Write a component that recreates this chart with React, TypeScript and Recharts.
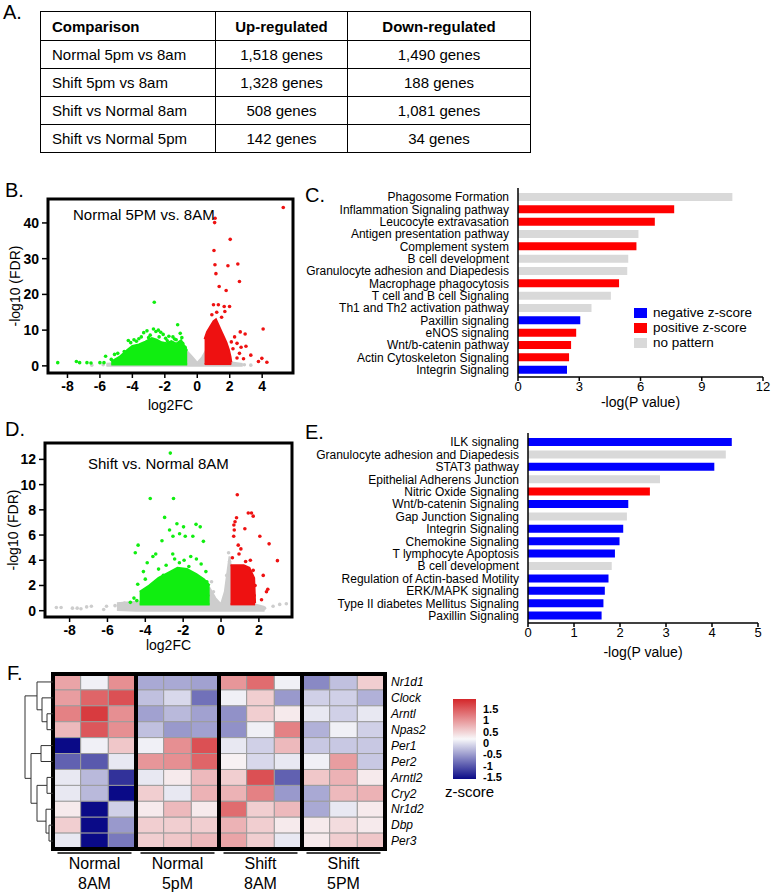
import React from "react"
import {
  BarChart,
  Bar,
  XAxis,
  YAxis,
  Cell,
  ComposedChart,
  Area,
  Scatter,
  ScatterChart,
  ReferenceArea,
} from "recharts"

// A. differentially expressed gene counts
const comparisons = ["Normal 5pm vs 8am", "Shift 5pm vs 8am", "Shift vs Normal 8am", "Shift vs Normal 5pm"]
const upRegulated = ["1,518 genes", "1,328 genes", "508 genes", "142 genes"]
const downRegulated = ["1,490 genes", "188 genes", "1,081 genes", "34 genes"]

// B. volcano Normal 5PM vs 8AM  ([x, lo, hi] for dense clouds, [x, y] for single dots)
const grayCloudB: [number, number, number][] = [
  [-5.6, 0, 0.6], [-4, 0, 1], [-2, 0, 1.2], [-0.62, 0, 4], [-0.3, 0, 2.4], [0, 0, 0.8],
  [0.3, 0, 2.4], [0.5, 0, 4], [2, 0, 1], [2.8, 0, 0.5],
]
const greenCloudB: [number, number, number][] = [
  [-5.3, 0.4, 1.2], [-4.8, 0.4, 2.5], [-4.3, 0.4, 4.5], [-4.0, 0.4, 5.6], [-3.6, 0.4, 6.0],
  [-3.2, 0.4, 6.8], [-2.8, 0.4, 7.8], [-2.5, 0.4, 7.3], [-2.2, 0.4, 6.6], [-1.9, 0.4, 6.3],
  [-1.6, 0.4, 6.9], [-1.3, 0.4, 6.2], [-1.0, 0.4, 7.2], [-0.8, 0.4, 5.6], [-0.62, 0.4, 4.2],
]
const redCloudB: [number, number, number][] = [
  [0.45, 0.5, 7.5], [0.6, 0.5, 9.5], [0.8, 0.5, 11], [1.0, 0.5, 12.5], [1.15, 0.5, 13],
  [1.3, 0.5, 11.5], [1.5, 0.5, 9.5], [1.65, 0.5, 8], [1.8, 0.5, 6.5], [1.95, 0.5, 4.5],
  [2.05, 0.5, 2.5], [2.1, 0.5, 1],
]
const greenDotsB: [number, number][] = [
  [-8.6, 0.9], [-7.45, 1.2], [-7.25, 0.9], [-6.8, 0.9], [-6.55, 0.8], [-6.0, 0.9], [-5.75, 0.9],
  [-5.65, 2.7], [-5.3, 1.8], [-5.1, 3.2], [-4.9, 3.5], [-4.7, 2.4], [-4.5, 4.0], [-4.25, 7.1],
  [-4.1, 6.5], [-3.9, 7.3], [-3.6, 7.6], [-3.3, 9.3], [-3.1, 9.8], [-2.9, 8.6], [-2.7, 10.3],
  [-2.55, 9.6], [-2.4, 10.0], [-2.25, 9.4], [-2.1, 8.8], [-1.95, 7.7], [-1.75, 8.3], [-1.5, 8.1],
  [-1.21, 11.5], [-1.05, 9.1], [-0.9, 6.3], [-2.65, 17.8], [-3.45, 8.1], [-1.3, 7.3], [-0.75, 5.2],
  [-3.75, 6.9], [-3.0, 7.9], [-2.35, 8.1], [-1.85, 7.0], [-1.4, 7.5], [-0.95, 7.9],
]
const redDotsB: [number, number][] = [
  [5.3, 44.3], [1.1, 41.3], [1.07, 40.1], [2.03, 35.4], [1.03, 32.3], [1.09, 28.3], [1.89, 28.0],
  [2.5, 28.5], [1.15, 25.8], [2.6, 23.6], [1.35, 22.2], [1.78, 21.1], [1.0, 17.1], [1.3, 17.1],
  [1.66, 16.6], [1.99, 16.6], [4.06, 10.3], [2.65, 9.5], [2.95, 8.9], [2.45, 6.3], [2.7, 5.2],
  [3.0, 5.5], [2.6, 3.5], [2.2, 4.8], [2.45, 2.2], [3.3, 3.0], [3.77, 1.2], [3.98, 2.1],
  [4.29, 1.0], [2.1, 6.7], [1.7, 15.2], [1.2, 15.0], [0.9, 14.3], [1.5, 13.6], [2.3, 8.1], [2.85, 2.0],
]
const grayDotsB: [number, number][] = [[-6.5, 0.2], [-5.8, 0.3], [2.9, 0.3], [3.3, 0.2]]

// D. volcano Shift vs Normal 8AM
const grayCloudD: [number, number, number][] = [
  [-5.5, 0.05, 0.6], [-4.5, 0, 0.7], [-2, 0, 0.6], [-0.6, 0, 1.8], [-0.3, 0, 1.0], [0, 0, 0.5],
  [0.2, 0, 1.5], [0.45, 0, 4.3], [0.6, 0, 2.5], [1.8, 0, 0.5], [2.3, 0, 0.3],
]
const greenCloudD: [number, number, number][] = [
  [-4.3, 0.5, 1.5], [-3.8, 0.5, 2.0], [-3.3, 0.5, 2.6], [-2.8, 0.5, 3.0], [-2.3, 0.5, 3.4],
  [-1.8, 0.5, 3.3], [-1.3, 0.5, 2.9], [-0.9, 0.5, 2.5], [-0.6, 0.5, 2.0],
]
const redCloudD: [number, number, number][] = [
  [0.5, 0.5, 3.6], [1.2, 0.5, 3.6], [1.5, 0.5, 3.4], [1.75, 0.5, 2.6], [1.8, 0.5, 0.6],
]
const greenDotsD: [number, number][] = [
  [-2.68, 12.5], [-3.74, 8.9], [-2.51, 8.9], [-2.98, 7.4], [-2.33, 6.9], [-1.98, 6.65], [-1.32, 6.85],
  [-1.1, 6.65], [-2.72, 6.4], [-2.19, 6.1], [-2.54, 5.9], [-1.89, 5.9], [-1.49, 5.9], [-3.12, 5.55],
  [-0.93, 5.5], [-4.38, 5.2], [-4.53, 4.6], [-3.6, 4.3], [-3.45, 4.5], [-2.55, 4.5], [-2.45, 4.1],
  [-1.95, 4.0], [-1.6, 4.3], [-1.3, 4.1], [-1.05, 3.7], [-2.9, 3.6], [-3.3, 3.3], [-4.1, 3.1],
  [-4.4, 2.1], [-4.0, 2.5], [-4.79, 0.66], [-4.6, 1.0], [-4.45, 0.8], [-3.9, 3.8], [-2.2, 3.8],
  [-3.05, 2.8], [-0.75, 2.3], [-0.7, 1.2], [-0.8, 3.1], [-1.7, 3.5],
]
const redDotsD: [number, number][] = [
  [0.86, 9.2], [1.44, 7.75], [1.61, 7.75], [1.7, 7.5], [0.82, 7.37], [0.74, 7.05], [0.68, 6.8],
  [0.7, 6.4], [0.67, 5.9], [1.26, 6.5], [0.91, 5.2], [0.95, 4.5], [1.05, 4.9], [2.05, 5.9],
  [2.54, 5.3], [2.98, 3.97], [2.23, 2.8], [2.47, 1.7], [2.4, 1.5], [2.14, 0.87], [1.55, 4.0],
  [1.7, 3.2], [1.8, 2.0], [1.75, 1.2], [0.6, 4.2], [1.3, 3.9],
]
const grayDotsD: [number, number][] = [
  [-8.7, 0.25], [-8.45, 0.25], [-7.85, 0.2], [-7.6, 0.2], [-7.4, 0.15], [-7.1, 0.3], [-6.85, 0.35],
  [-6.2, 0.1], [-6.05, 0.35], [-5.6, 0.4], [-5.35, 0.5], [-5.1, 0.6], [2.75, 0.35], [3.1, 0.5],
  [3.45, 0.55], [1.9, 0.3], [2.3, 0.2], [0.4, 4.6], [0.45, 3.9], [0.3, 2.8], [-0.5, 2.3], [-0.4, 1.5],
]

// C. pathways Normal 5PM vs 8AM
const pathwaysC = [
  "Phagosome Formation", "Inflammation Signaling pathway", "Leucocyte extravasation",
  "Antigen presentation pathway", "Complement system", "B cell development",
  "Granulocyte adhesion and Diapedesis", "Macrophage phagocytosis", "T cell and B cell Signaling",
  "Th1 and Th2 activation pathway", "Paxillin signaling", "eNOS signaling", "Wnt/b-catenin pathway",
  "Actin Cytoskeleton Signaling", "Integrin Signaling",
]
const pValuesC = [10.5, 7.65, 6.7, 5.9, 5.8, 5.4, 5.35, 4.95, 4.55, 3.6, 3.05, 2.85, 2.6, 2.5, 2.4]
const patternC = ["none", "pos", "pos", "none", "pos", "none", "none", "pos", "none", "none", "neg", "pos", "pos", "pos", "neg"]

// E. pathways Shift vs Normal 8AM
const pathwaysE = [
  "ILK signaling", "Granulocyte adhesion and Diapedesis", "STAT3 pathway", "Epithelial Adherens Junction",
  "Nitric Oxide Signaling", "Wnt/b-catenin Signaling", "Gap Junction Signaling", "Integrin Signaling",
  "Chemokine Signaling", "T lymphocyte Apoptosis", "B cell development",
  "Regulation of Actin-based Motility", "ERK/MAPK signaling", "Type II diabetes Mellitus Signaling",
  "Paxillin Signaling",
]
const pValuesE = [4.43, 4.3, 4.05, 2.87, 2.65, 2.18, 2.15, 2.07, 1.99, 1.89, 1.82, 1.75, 1.67, 1.64, 1.6]
const patternE = ["neg", "none", "neg", "none", "pos", "neg", "none", "neg", "neg", "neg", "none", "neg", "neg", "neg", "neg"]

const legendKeys = ["neg", "pos", "none"]
const legendNames = ["negative z-score", "positive z-score", "no pattern"]

// F. clock gene heatmap
const genes = ["Nr1d1", "Clock", "Arntl", "Npas2", "Per1", "Per2", "Arntl2", "Cry2", "Nr1d2", "Dbp", "Per3"]
const groupTop = ["Normal", "Normal", "Shift", "Shift"]
const groupBottom = ["8AM", "5pM", "8AM", "5PM"]
const groupCenters = [1.5, 4.5, 7.5, 10.5]
const zScores = [
  [0.6, -0.05, 0.75, -0.5, -0.5, -0.55, 0.7, 1.0, -0.05, -0.7, -0.35, 0.3],
  [0.65, 1.05, 1.2, -0.35, -0.2, -0.85, -0.05, 0.3, -0.6, -0.25, -0.25, -0.45],
  [0.85, 1.35, 0.75, -0.55, -0.4, -0.55, -0.65, 0.3, 0.1, -0.1, -0.25, -0.1],
  [0.45, 1.15, 0.75, -0.35, -0.6, -0.55, -0.65, -0.05, 0.85, -0.45, -0.05, -0.25],
  [-1.65, -0.05, 0.35, -0.05, 0.75, 1.2, -0.1, -0.25, 0.45, -0.3, -0.3, -0.3],
  [-0.95, -1.0, -0.1, 0.7, 0.75, 1.05, 0.05, -0.2, -0.1, -0.05, 0.65, -0.3],
  [-0.1, -0.4, -1.25, -0.1, 0.1, 0.45, 0.3, 1.2, -0.95, 0.35, 0.5, 0.1],
  [-0.1, -0.4, -1.5, 0.3, -0.1, 0.5, 0.5, 0.85, -0.6, -0.5, 0.45, 0.5],
  [0.1, -2.0, -0.25, 0.1, 0.45, 0.1, 1.0, 0.3, 0.45, -0.5, -0.1, 0.1],
  [0.3, -2.0, -0.6, 0.3, 0.3, 0.3, 0.5, 0.3, 0.1, 0.1, 0.2, 0.1],
  [-0.1, -2.0, -0.8, 0.3, 0.35, 0.45, 0.6, 0.3, -0.1, 0.1, 0.3, 0.35],
]
// dendrogram joins: [child1 height, child1 row, child2 height, child2 row, join height]
const dendroLinks = [
  [0, 2, 0, 3, 6],
  [0, 1, 6, 2.5, 11],
  [0, 0, 11, 1.75, 16],
  [0, 4, 0, 5, 12],
  [0, 6, 0, 7, 6],
  [0, 9, 0, 10, 4],
  [0, 8, 4, 9.5, 7],
  [6, 6.5, 7, 8.75, 16],
  [12, 4.5, 16, 7.625, 22],
  [16, 0.875, 22, 6.06, 28],
]
const colorBarTicks = ["1.5", "1", "0.5", "0", "-0.5", "-1", "-1.5"]

const COLORS: Record<string, string> = { neg: "#0000FF", pos: "#FF0000", none: "#D9D9D9" }
const GREEN = "#10EE10"
const RED = "#EE1111"
const GRAY = "#CDCDCD"

function zColor(z: number) {
  const t = Math.max(-1.5, Math.min(1.5, z)) / 1.5
  let r, g, b
  if (t >= 0) {
    r = 248 + (212 - 248) * t
    g = 248 + (38 - 248) * t
    b = 250 + (42 - 250) * t
  } else {
    const s = -t
    r = 248 * (1 - s) + 10 * s
    g = 248 * (1 - s) + 10 * s
    b = 250 * (1 - s) + 135 * s
  }
  return `rgb(${Math.round(r)},${Math.round(g)},${Math.round(b)})`
}

const toPts = (a: [number, number][]) => a.map(([x, y]) => ({ x, y }))
const toBand = (a: [number, number, number][]) => a.map(([x, lo, hi]) => ({ x, r: [lo, hi] }))

function Letter({ text, left, top }: { text: string; left: number; top: number }) {
  return <div style={{ position: "absolute", left, top, fontSize: 20, lineHeight: "20px" }}>{text}</div>
}

interface VolcanoProps {
  width: number
  height: number
  margin: { top: number; right: number; bottom: number; left: number }
  yAxisWidth: number
  xAxisHeight: number
  xDomain: [number, number]
  yDomain: [number, number]
  xTicks: number[]
  yTicks: number[]
  yLabelOffset: number
  clouds: { data: [number, number, number][]; color: string }[]
  dots: { data: [number, number][]; color: string }[]
}

function Volcano(p: VolcanoProps) {
  const tickStyle = { fontSize: 14, fontWeight: "bold", fill: "#000" }
  return (
    <ComposedChart width={p.width} height={p.height} margin={p.margin}>
      <XAxis
        type="number"
        dataKey="x"
        domain={p.xDomain}
        ticks={p.xTicks}
        allowDataOverflow
        axisLine={false}
        tickLine={{ stroke: "#000", strokeWidth: 1.5 }}
        tickSize={5}
        tickMargin={3}
        tick={tickStyle}
        height={p.xAxisHeight}
        label={{ value: "log2FC", position: "insideBottom", offset: 5, fontSize: 14, fill: "#000" }}
      />
      <YAxis
        type="number"
        domain={p.yDomain}
        ticks={p.yTicks}
        allowDataOverflow
        axisLine={false}
        tickLine={{ stroke: "#000", strokeWidth: 1.5 }}
        tickSize={6}
        tickMargin={3}
        tick={tickStyle}
        width={p.yAxisWidth}
        label={{
          value: "-log10 (FDR)",
          angle: -90,
          position: "insideLeft",
          offset: p.yLabelOffset,
          fontSize: 14,
          fill: "#000",
          style: { textAnchor: "middle" },
        }}
      />
      {p.clouds.map((c, i) => (
        <Area
          key={`cloud-${i}`}
          data={toBand(c.data)}
          dataKey="r"
          type="linear"
          fill={c.color}
          fillOpacity={1}
          stroke={c.color}
          strokeWidth={2}
          isAnimationActive={false}
        />
      ))}
      {p.dots.map((d, i) => (
        <Scatter
          key={`dots-${i}`}
          data={toPts(d.data)}
          dataKey="y"
          isAnimationActive={false}
          shape={(s: any) => <circle cx={s.cx} cy={s.cy} r={1.8} fill={d.color} />}
        />
      ))}
      <ReferenceArea
        x1={p.xDomain[0]}
        x2={p.xDomain[1]}
        y1={p.yDomain[0]}
        y2={p.yDomain[1]}
        fill="none"
        fillOpacity={0}
        stroke="#000"
        strokeWidth={3}
        strokeOpacity={1}
        ifOverflow="visible"
      />
    </ComposedChart>
  )
}

function PathTick(props: any) {
  const { x, y, payload } = props
  return (
    <text x={x} y={y} dy="0.355em" textAnchor="end" fontSize={12} fill="#000">
      {payload.value}
    </text>
  )
}

interface PathwayProps {
  names: string[]
  values: number[]
  patterns: string[]
  width: number
  height: number
  margin: { top: number; right: number; bottom: number; left: number }
  yAxisWidth: number
  xAxisHeight: number
  xMax: number
  xTicks: number[]
  labelOffset: number
}

function PathwayBars(p: PathwayProps) {
  const data = p.names.map((name, i) => ({ name, value: p.values[i], pattern: p.patterns[i] }))
  return (
    <BarChart width={p.width} height={p.height} layout="vertical" data={data} margin={p.margin}>
      <XAxis
        type="number"
        domain={[0, p.xMax]}
        ticks={p.xTicks}
        axisLine={{ stroke: "#000", strokeWidth: 1.5 }}
        tickLine={{ stroke: "#000", strokeWidth: 1.5 }}
        tickSize={4}
        tickMargin={1}
        tick={{ fontSize: 13, fill: "#000" }}
        height={p.xAxisHeight}
        label={{ value: "-log(P value)", position: "insideBottom", offset: p.labelOffset, fontSize: 14, fill: "#000" }}
      />
      <YAxis
        type="category"
        dataKey="name"
        width={p.yAxisWidth}
        interval={0}
        axisLine={{ stroke: "#000", strokeWidth: 1.5 }}
        tickLine={false}
        tickSize={0}
        tickMargin={9}
        padding={{ top: 3, bottom: 1 }}
        tick={<PathTick />}
      />
      <Bar dataKey="value" barSize={8} isAnimationActive={false}>
        {data.map((d, i) => (
          <Cell key={`c-${i}`} fill={COLORS[d.pattern]} />
        ))}
      </Bar>
    </BarChart>
  )
}

function GroupTick(props: any) {
  const { x, y, payload } = props
  const i = groupCenters.indexOf(payload.value)
  return (
    <g>
      <line x1={x - 37} x2={x + 37} y1={y + 4} y2={y + 4} stroke="#000" strokeWidth={1.5} />
      <text x={x} y={y + 20} textAnchor="middle" fontSize={16} fill="#000">
        {groupTop[i]}
      </text>
      <text x={x} y={y + 40} textAnchor="middle" fontSize={16} fill="#000">
        {groupBottom[i]}
      </text>
    </g>
  )
}

const HEAT_MARGIN = { top: 14, bottom: 47, left: 53 }

function Heatmap() {
  const rows = genes.map((gene, r) => {
    const row: Record<string, any> = { gene }
    zScores[r].forEach((_, c) => (row[`c${c}`] = 1))
    return row
  })
  const cols = zScores[0].map((_, c) => c)
  return (
    <BarChart
      width={440}
      height={236}
      layout="vertical"
      data={rows}
      barCategoryGap={0}
      margin={{ top: HEAT_MARGIN.top, right: 5, bottom: 0, left: HEAT_MARGIN.left }}
    >
      <XAxis
        type="number"
        domain={[0, 12]}
        ticks={groupCenters}
        axisLine={false}
        tickLine={false}
        tickSize={0}
        tickMargin={0}
        height={HEAT_MARGIN.bottom}
        tick={<GroupTick />}
      />
      <YAxis
        type="category"
        dataKey="gene"
        orientation="right"
        width={50}
        interval={0}
        axisLine={false}
        tickLine={false}
        tickSize={0}
        tickMargin={6}
        tick={{ fontSize: 12, fontStyle: "italic", fill: "#000" }}
      />
      {cols.map((c) => (
        <Bar key={`col-${c}`} dataKey={`c${c}`} stackId="h" isAnimationActive={false}>
          {genes.map((_, r) => (
            <Cell key={`cell-${r}-${c}`} fill={zColor(zScores[r][c])} stroke="#9c9c9c" strokeWidth={1} />
          ))}
        </Bar>
      ))}
    </BarChart>
  )
}

// thick frames around each group, drawn on top of the cells
function GroupFrames() {
  return (
    <ScatterChart width={440} height={236} margin={{ top: HEAT_MARGIN.top, right: 55, bottom: HEAT_MARGIN.bottom, left: HEAT_MARGIN.left }}>
      <XAxis type="number" dataKey="x" domain={[0, 12]} allowDataOverflow hide />
      <YAxis type="number" dataKey="y" domain={[0, genes.length]} allowDataOverflow hide />
      {groupCenters.map((g, i) => (
        <ReferenceArea
          key={`grp-${i}`}
          x1={g - 1.5}
          x2={g + 1.5}
          y1={0}
          y2={genes.length}
          fill="none"
          fillOpacity={0}
          stroke="#000"
          strokeWidth={4}
          ifOverflow="visible"
        />
      ))}
    </ScatterChart>
  )
}

function Dendrogram() {
  return (
    <ScatterChart width={60} height={236} margin={{ top: HEAT_MARGIN.top, right: 7, bottom: HEAT_MARGIN.bottom, left: 25 }}>
      <XAxis type="number" dataKey="h" domain={[0, 28]} reversed hide />
      <YAxis type="number" dataKey="row" domain={[-0.5, 10.5]} reversed hide />
      {dendroLinks.map(([h1, r1, h2, r2, h], i) => (
        <Scatter
          key={`link-${i}`}
          data={[
            { h: h1, row: r1 },
            { h, row: r1 },
            { h, row: r2 },
            { h: h2, row: r2 },
          ]}
          line={{ stroke: "#333", strokeWidth: 1 }}
          shape={() => <g />}
          isAnimationActive={false}
        />
      ))}
    </ScatterChart>
  )
}

function ColorBar() {
  const steps = 24
  const stops = Array.from({ length: steps + 1 }, (_, i) => {
    const z = 1.5 - (3 * i) / steps
    return <stop key={i} offset={`${(i / steps) * 100}%`} stopColor={zColor(z)} />
  })
  return (
    <div style={{ position: "absolute", left: 453, top: 699 }}>
      <svg width={70} height={92}>
        <defs>
          <linearGradient id="zgrad" x1="0" y1="0" x2="0" y2="1">
            {stops}
          </linearGradient>
        </defs>
        <rect x={0} y={0} width={23} height={80} fill="url(#zgrad)" />
        {colorBarTicks.map((t, i) => (
          <text key={t} x={30} y={14 + i * 11.3} fontSize={11} fontWeight="bold" fill="#000">
            {t}
          </text>
        ))}
      </svg>
    </div>
  )
}

export default function App() {
  const cell: React.CSSProperties = { border: "1.5px solid #000", height: 27, padding: 0, fontSize: 15 }
  return (
    <div
      style={{
        position: "relative",
        width: 772,
        height: 896,
        background: "#fff",
        fontFamily: "'Liberation Sans', Arial, sans-serif",
        color: "#000",
        overflow: "hidden",
      }}
    >
      <style>{"body{margin:0}"}</style>

      {/* A */}
      <Letter text="A." left={3} top={2} />
      <table
        style={{
          position: "absolute",
          left: 40,
          top: 11,
          width: 490,
          borderCollapse: "collapse",
          tableLayout: "fixed",
        }}
      >
        <colgroup>
          <col style={{ width: 175 }} />
          <col style={{ width: 132 }} />
          <col style={{ width: 183 }} />
        </colgroup>
        <tbody>
          <tr>
            <td style={{ ...cell, height: 28, fontWeight: "bold", paddingLeft: 11 }}>Comparison</td>
            <td style={{ ...cell, fontWeight: "bold", textAlign: "center" }}>Up-regulated</td>
            <td style={{ ...cell, fontWeight: "bold", textAlign: "center" }}>Down-regulated</td>
          </tr>
          {comparisons.map((c, i) => (
            <tr key={c}>
              <td style={{ ...cell, paddingLeft: 11 }}>{c}</td>
              <td style={{ ...cell, textAlign: "center" }}>{upRegulated[i]}</td>
              <td style={{ ...cell, textAlign: "center" }}>{downRegulated[i]}</td>
            </tr>
          ))}
        </tbody>
      </table>

      {/* B */}
      <Letter text="B." left={5} top={180} />
      <div style={{ position: "absolute", left: 0, top: 185 }}>
        <Volcano
          width={300}
          height={230}
          margin={{ top: 14, right: 7, bottom: 0, left: 8 }}
          yAxisWidth={40}
          xAxisHeight={42}
          xDomain={[-9.2, 5.9]}
          yDomain={[-2, 46.7]}
          xTicks={[-8, -6, -4, -2, 0, 2, 4]}
          yTicks={[0, 10, 20, 30, 40]}
          yLabelOffset={7}
          clouds={[
            { data: grayCloudB, color: GRAY },
            { data: greenCloudB, color: GREEN },
            { data: redCloudB, color: RED },
          ]}
          dots={[
            { data: grayDotsB, color: GRAY },
            { data: greenDotsB, color: GREEN },
            { data: redDotsB, color: RED },
          ]}
        />
      </div>
      <div style={{ position: "absolute", left: 73, top: 207, fontSize: 15, lineHeight: "15px" }}>Normal 5PM vs. 8AM</div>

      {/* C */}
      <Letter text="C." left={305} top={185} />
      <div style={{ position: "absolute", left: 300, top: 180 }}>
        <PathwayBars
          names={pathwaysC}
          values={pValuesC}
          patterns={patternC}
          width={472}
          height={240}
          margin={{ top: 8, right: 9, bottom: 0, left: 0 }}
          yAxisWidth={218}
          xAxisHeight={43}
          xMax={12}
          xTicks={[0, 3, 6, 9, 12]}
          labelOffset={13}
        />
      </div>
      <div style={{ position: "absolute", left: 634, top: 305 }}>
        {legendKeys.map((k, i) => (
          <div key={k} style={{ display: "flex", alignItems: "center", height: 15, fontSize: 13.5, lineHeight: "15px" }}>
            <div style={{ width: 13, height: 10, background: COLORS[k], marginRight: 6 }} />
            <span>{legendNames[i]}</span>
          </div>
        ))}
      </div>

      {/* D */}
      <Letter text="D." left={5} top={419} />
      <div style={{ position: "absolute", left: 0, top: 430 }}>
        <Volcano
          width={300}
          height={225}
          margin={{ top: 13, right: 8, bottom: 0, left: 8 }}
          yAxisWidth={37}
          xAxisHeight={38}
          xDomain={[-9.3, 3.75]}
          yDomain={[-0.5, 13.3]}
          xTicks={[-8, -6, -4, -2, 0, 2]}
          yTicks={[0, 2, 4, 6, 8, 10, 12]}
          yLabelOffset={5}
          clouds={[
            { data: grayCloudD, color: GRAY },
            { data: greenCloudD, color: GREEN },
            { data: redCloudD, color: RED },
          ]}
          dots={[
            { data: grayDotsD, color: GRAY },
            { data: greenDotsD, color: GREEN },
            { data: redDotsD, color: RED },
          ]}
        />
      </div>
      <div style={{ position: "absolute", left: 88, top: 456, fontSize: 15, lineHeight: "15px" }}>Shift vs. Normal 8AM</div>

      {/* E */}
      <Letter text="E." left={305} top={422} />
      <div style={{ position: "absolute", left: 300, top: 425 }}>
        <PathwayBars
          names={pathwaysE}
          values={pValuesE}
          patterns={patternE}
          width={472}
          height={240}
          margin={{ top: 8, right: 14, bottom: 0, left: 0 }}
          yAxisWidth={228}
          xAxisHeight={42}
          xMax={5}
          xTicks={[0, 1, 2, 3, 4, 5]}
          labelOffset={8}
        />
      </div>

      {/* F */}
      <Letter text="F." left={7} top={663} />
      <div style={{ position: "absolute", left: 0, top: 660 }}>
        <Heatmap />
      </div>
      <div style={{ position: "absolute", left: 0, top: 660 }}>
        <GroupFrames />
      </div>
      <div style={{ position: "absolute", left: 0, top: 660 }}>
        <Dendrogram />
      </div>
      <ColorBar />
      <div style={{ position: "absolute", left: 445, top: 784, fontSize: 15, lineHeight: "15px" }}>z-score</div>
    </div>
  )
}
